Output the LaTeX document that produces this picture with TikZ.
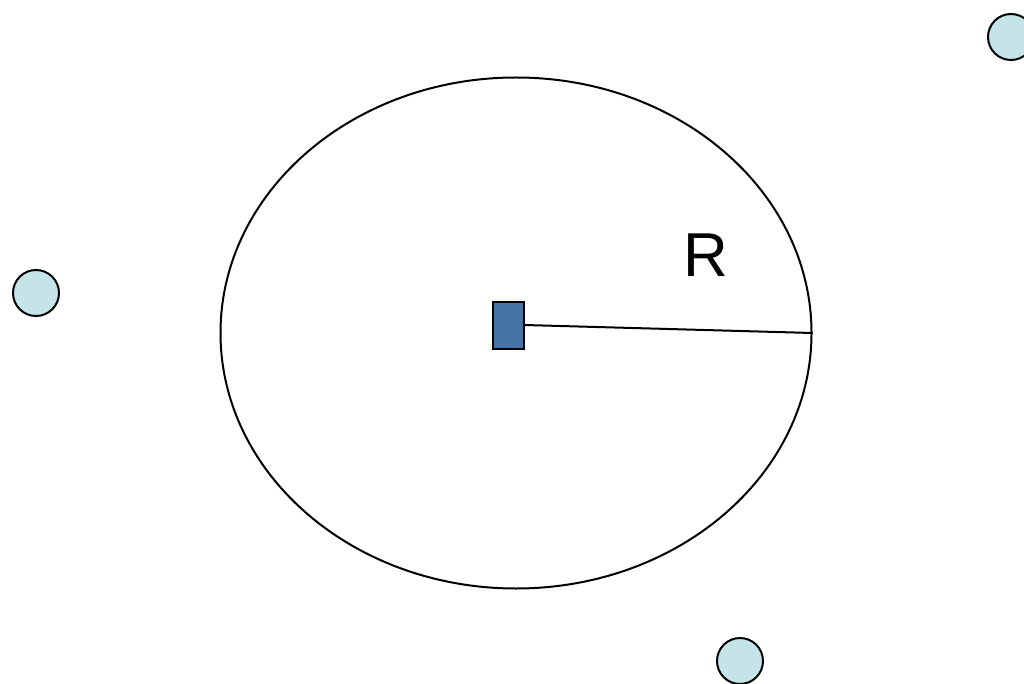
\documentclass[tikz,border=0pt]{standalone}
\usepackage{fontspec}
\setmainfont{Liberation Sans}
\usetikzlibrary{shapes.geometric}
\definecolor{dotfill}{HTML}{C4E4E7}
\definecolor{boxfill}{HTML}{4673A5}
\begin{document}
\begin{tikzpicture}[x=1pt,y=-1pt,
  dot/.style={circle,draw=black,line width=2pt,fill=dotfill,minimum size=46pt,inner sep=0pt},
  boxnode/.style={rectangle,draw=black,line width=2pt,fill=boxfill,minimum width=31pt,minimum height=47pt,inner sep=0pt},
  ring/.style={ellipse,draw=black,line width=2pt,minimum width=591pt,minimum height=511pt,inner sep=0pt},
  link/.style={draw=black,line width=2pt}]
\useasboundingbox (0,0) rectangle (1024,684);
\clip (0,0) rectangle (1024,684);
\fill[white] (0,0) rectangle (1024,684);
\node[ring] (ell) at (516,333) {};
\node[boxnode] (box) at (508,325) {};
\draw[link] (box.east) -- (ell.east);
\node[font=\fontsize{62}{70}\selectfont,inner sep=0pt] (r) at (706,255) {R};
\node[dot] (d1) at (1011,37) {};
\node[dot] (d2) at (36,293) {};
\node[dot] (d3) at (740,661) {};
\end{tikzpicture}
\end{document}
